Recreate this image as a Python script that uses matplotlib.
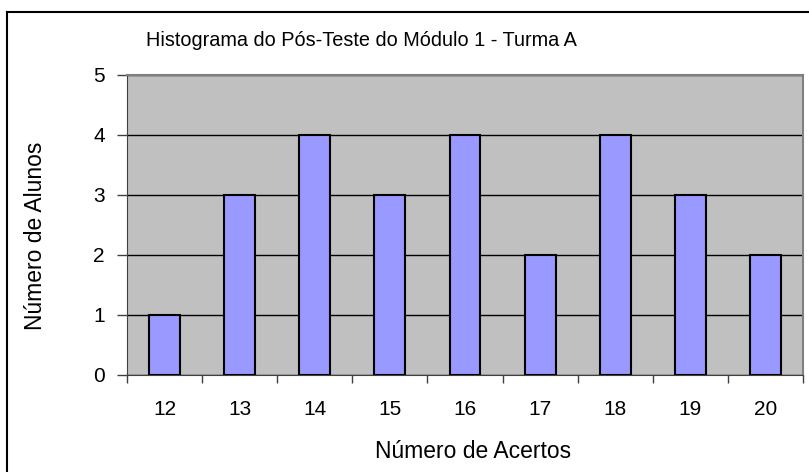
import matplotlib.pyplot as plt
from matplotlib.lines import Line2D
import numpy as np

plt.rcParams["font.family"] = ["Liberation Sans", "DejaVu Sans"]

acertos = [12, 13, 14, 15, 16, 17, 18, 19, 20]
alunos = [1, 3, 4, 3, 4, 2, 4, 3, 2]

W, H = 809, 472
fig = plt.figure(figsize=(W / 100, H / 100), dpi=100)
ax = fig.add_axes([127 / W, 1 - 375 / H, 676 / W, 300 / H])
ax.set_facecolor("#c0c0c0")

x = np.arange(len(acertos))
ax.bar(x, alunos, width=0.41, color="#9999ff", edgecolor="black", linewidth=1.5, zorder=3)

ax.set_xlim(-0.5, len(acertos) - 0.5)
ax.set_ylim(0, 5)
ax.set_yticks(range(6))
ax.yaxis.grid(True, color="black", linewidth=1.0, zorder=1)
ax.set_axisbelow(True)

ax.set_xticks(x)
ax.set_xticklabels([str(a) for a in acertos])
ax.set_xticks(np.arange(-0.5, len(acertos)), minor=True)
ax.tick_params(axis="x", which="major", length=0, pad=18, labelsize=15)
ax.tick_params(axis="x", which="minor", length=6, width=1, color="#404040")
ax.tick_params(axis="y", length=7, width=1, pad=9, labelsize=15, color="#404040")

for side in ["top", "right"]:
    ax.spines[side].set_color("#808080")
    ax.spines[side].set_linewidth(1.5)
ax.spines["left"].set_color("#404040")
ax.spines["bottom"].set_color("#404040")

# axis titles placed like the original chart
fig.text(36 / W, 1 - 236 / H, "Número de Alunos", fontsize=16.5,
         rotation=90, ha="center", va="center")
fig.text(473 / W, 1 - 452 / H, "Número de Acertos", fontsize=16.5,
         ha="center", va="center")

fig.text(361 / W, 1 - 41 / H, "Histograma do Pós-Teste do Módulo 1 - Turma A",
         fontsize=14.3, ha="center", va="center")

# chart area border (left and top edges visible)
fig.add_artist(Line2D([7 / W, 7 / W], [0, 1 - 12 / H], color="black", linewidth=1.5))
fig.add_artist(Line2D([7 / W, 1], [1 - 12 / H, 1 - 12 / H], color="black", linewidth=1.5))

fig.savefig("out.png", dpi=100)
